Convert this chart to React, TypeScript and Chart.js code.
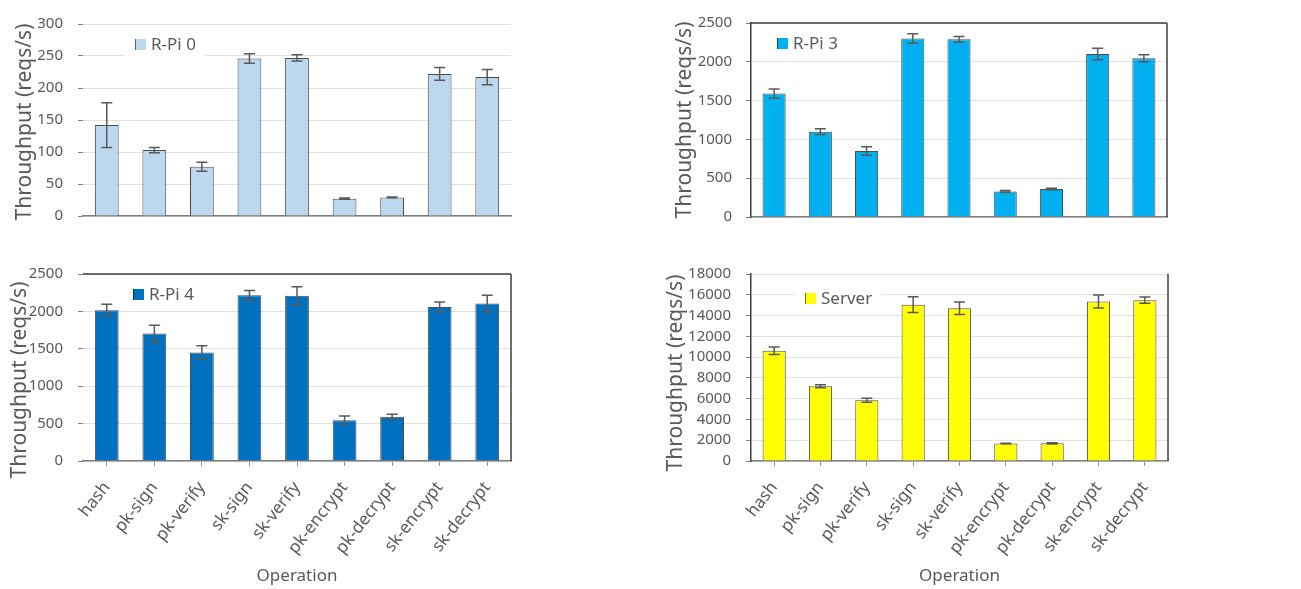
import React, { useEffect, useRef } from 'react';
import { Chart, registerables } from 'chart.js';

Chart.register(...registerables);

// ---------- data ----------
const operations = ['hash', 'pk-sign', 'pk-verify', 'sk-sign', 'sk-verify', 'pk-encrypt', 'pk-decrypt', 'sk-encrypt', 'sk-decrypt'];

const rpi0Values = [142, 103, 77, 246, 247, 27, 29, 222, 217];
const rpi0Errors = [35, 4, 7, 7.5, 5, 1, 0.5, 10, 12];

const rpi3Values = [1590, 1100, 850, 2300, 2290, 330, 362, 2100, 2045];
const rpi3Errors = [60, 37, 55, 60, 35, 10, 10, 75, 45];

const rpi4Values = [2015, 1705, 1450, 2215, 2210, 545, 590, 2060, 2105];
const rpi4Errors = [80, 110, 90, 65, 120, 55, 35, 65, 110];

const serverValues = [10620, 7200, 5850, 15050, 14700, 1680, 1700, 15350, 15480];
const serverErrors = [360, 150, 200, 750, 600, 30, 60, 620, 300];

const yMaxes = [300, 2500, 2500, 18000];
const ySteps = [50, 500, 500, 2000];
const seriesLabels = ['R-Pi 0', 'R-Pi 3', 'R-Pi 4', 'Server'];
const yTitle = 'Throughput (reqs/s)';
const xTitle = 'Operation';

// ---------- styling ----------
const FONT = "'Noto Sans', sans-serif";
const TEXT = '#595959';

const errorBarPlugin = {
  id: 'errorBars',
  afterDatasetsDraw(chart: any) {
    const { ctx } = chart;
    const yScale = chart.scales.y;
    chart.data.datasets.forEach((ds: any, i: number) => {
      const errs = ds.errors;
      if (!errs) return;
      const meta = chart.getDatasetMeta(i);
      meta.data.forEach((bar: any, j: number) => {
        const v = ds.data[j];
        const e = errs[j];
        const yTop = yScale.getPixelForValue(v + e);
        const yBot = yScale.getPixelForValue(v - e);
        const x = bar.x;
        const cap = 5.5;
        ctx.save();
        ctx.strokeStyle = '#595959';
        ctx.lineWidth = 1.5;
        ctx.beginPath();
        ctx.moveTo(x, yTop);
        ctx.lineTo(x, yBot);
        ctx.moveTo(x - cap, yTop);
        ctx.lineTo(x + cap, yTop);
        ctx.moveTo(x - cap, yBot);
        ctx.lineTo(x + cap, yBot);
        ctx.stroke();
        ctx.restore();
      });
    });
  },
};

const framePlugin = {
  id: 'frame',
  afterDraw(chart: any, _a: any, opts: any) {
    const { ctx, chartArea } = chart;
    ctx.save();
    ctx.strokeStyle = '#404040';
    ctx.lineWidth = 1.5;
    ctx.beginPath();
    if (opts.top) {
      ctx.moveTo(chartArea.left, chartArea.top);
      ctx.lineTo(chartArea.right, chartArea.top);
    }
    if (opts.right) {
      ctx.moveTo(chartArea.right, chartArea.top);
      ctx.lineTo(chartArea.right, chartArea.bottom);
    }
    ctx.stroke();
    ctx.restore();
  },
};

const yTitlePlugin = {
  id: 'yTitleText',
  afterDraw(chart: any, _a: any, opts: any) {
    const { ctx } = chart;
    ctx.save();
    ctx.translate(opts.x, opts.y);
    ctx.rotate(-Math.PI / 2);
    ctx.font = `21px ${FONT}`;
    ctx.fillStyle = TEXT;
    ctx.textAlign = 'center';
    ctx.textBaseline = 'middle';
    ctx.fillText(opts.text, 0, 0);
    ctx.restore();
  },
};

const innerLegendPlugin = {
  id: 'innerLegend',
  afterDraw(chart: any, _a: any, opts: any) {
    const { ctx, chartArea } = chart;
    const ds = chart.data.datasets[0];
    const x = chartArea.left + opts.dx;
    const y = chartArea.top + opts.dy;
    const box = 11;
    ctx.save();
    ctx.font = `17px ${FONT}`;
    const tw = ctx.measureText(ds.label).width;
    ctx.fillStyle = '#ffffff';
    ctx.fillRect(x - 10, y - 6, box + 6 + tw + 18, box + 12);
    ctx.fillStyle = ds.backgroundColor;
    ctx.fillRect(x, y, box, box);
    ctx.strokeStyle = 'rgba(0,0,0,0.55)';
    ctx.lineWidth = 1;
    ctx.beginPath();
    ctx.moveTo(x + 0.5, y);
    ctx.lineTo(x + 0.5, y + box);
    ctx.stroke();
    ctx.fillStyle = TEXT;
    ctx.textBaseline = 'middle';
    ctx.textAlign = 'left';
    ctx.fillText(ds.label, x + box + 5, y + box / 2 + 0.5);
    ctx.restore();
  },
};

type PanelProps = {
  values: number[];
  errors: number[];
  label: string;
  color: string;
  yMax: number;
  yStep: number;
  width: number;
  height: number;
  area: { left: number; top: number; right: number; bottom: number };
  showX: boolean;
  yLine: boolean;
  frame: { top: boolean; right: boolean };
  legend: { dx: number; dy: number };
  tickPad: number;
  titlePos: { x: number; y: number };
};

function Panel(p: PanelProps) {
  const ref = useRef<HTMLCanvasElement | null>(null);
  useEffect(() => {
    if (!ref.current) return;
    const chart = new Chart(ref.current, {
      type: 'bar',
      data: {
        labels: operations,
        datasets: [
          {
            label: p.label,
            data: p.values,
            errors: p.errors,
            backgroundColor: p.color,
            borderColor: 'rgba(0,0,0,0.7)',
            borderWidth: { top: 1, left: 1, right: 1, bottom: 0 },
            borderSkipped: 'start',
            categoryPercentage: 1,
            barPercentage: 0.5,
          } as any,
        ],
      },
      options: {
        responsive: false,
        animation: false,
        events: [],
        layout: {
          padding: {
            left: 0,
            top: p.area.top,
            right: p.width - p.area.right,
            bottom: 0,
          },
        },
        plugins: {
          legend: { display: false },
          tooltip: { enabled: false },
          frame: p.frame,
          innerLegend: p.legend,
          yTitleText: { x: p.titlePos.x, y: p.titlePos.y, text: yTitle },
        } as any,
        scales: {
          x: {
            afterFit: (s: any) => {
              s.height = p.height - p.area.bottom;
            },
            grid: {
              display: p.showX,
              drawOnChartArea: false,
              drawTicks: true,
              tickLength: 5,
              offset: false,
              tickColor: '#8c8c8c',
            },
            border: { display: true, color: '#7f7f7f', width: 1.5 },
            ticks: {
              display: p.showX,
              autoSkip: false,
              maxRotation: 52,
              minRotation: 52,
              padding: 12,
              color: TEXT,
              font: { family: FONT, size: 17 },
            },
            title: {
              display: p.showX,
              text: xTitle,
              color: TEXT,
              font: { family: FONT, size: 17 },
              padding: { top: 0, bottom: 3 },
            },
          },
          y: {
            min: 0,
            max: p.yMax,
            afterFit: (s: any) => {
              s.width = p.area.left;
            },
            ticks: {
              stepSize: p.yStep,
              autoSkip: false,
              color: TEXT,
              padding: p.tickPad,
              font: { family: FONT, size: 15 },
              callback: (v: any) => String(v),
            },
            grid: {
              color: '#e2e2e2',
              lineWidth: 1,
              tickLength: 5,
              tickColor: '#7f7f7f',
            },
            border: { display: p.yLine, color: '#404040', width: 1.5 },
            title: { display: false },
          },
        },
      },
      plugins: [errorBarPlugin, framePlugin, innerLegendPlugin, yTitlePlugin],
    });
    return () => chart.destroy();
  }, []);
  return <canvas ref={ref} width={p.width} height={p.height} style={{ display: 'block' }} />;
}

export default function App() {
  const panels = [
    {
      pos: { left: 0, top: 0 },
      props: {
        values: rpi0Values, errors: rpi0Errors, label: seriesLabels[0], color: '#BDD7EE',
        yMax: yMaxes[0], yStep: ySteps[0], width: 520, height: 240,
        area: { left: 83, top: 14, right: 511, bottom: 229 },
        showX: false, yLine: false, frame: { top: false, right: false },
        legend: { dx: 52, dy: 15 }, tickPad: 15, titlePos: { x: 25, y: 122 },
      },
    },
    {
      pos: { left: 650, top: 0 },
      props: {
        values: rpi3Values, errors: rpi3Errors, label: seriesLabels[1], color: '#00B0F0',
        yMax: yMaxes[1], yStep: ySteps[1], width: 651, height: 240,
        area: { left: 101, top: 13, right: 517, bottom: 227 },
        showX: false, yLine: true, frame: { top: true, right: true },
        legend: { dx: 26, dy: 15 }, tickPad: 14, titlePos: { x: 35, y: 120 },
      },
    },
    {
      pos: { left: 0, top: 250 },
      props: {
        values: rpi4Values, errors: rpi4Errors, label: seriesLabels[2], color: '#0070C0',
        yMax: yMaxes[2], yStep: ySteps[2], width: 520, height: 339,
        area: { left: 83, top: 19, right: 511, bottom: 211 },
        showX: true, yLine: false, frame: { top: true, right: true },
        legend: { dx: 50, dy: 15 }, tickPad: 15, titlePos: { x: 20, y: 130 },
      },
    },
    {
      pos: { left: 650, top: 250 },
      props: {
        values: serverValues, errors: serverErrors, label: seriesLabels[3], color: '#FFFF00',
        yMax: yMaxes[3], yStep: ySteps[3], width: 651, height: 339,
        area: { left: 101, top: 18, right: 518, bottom: 211 },
        showX: true, yLine: true, frame: { top: false, right: true },
        legend: { dx: 54, dy: 19 }, tickPad: 15, titlePos: { x: 26, y: 123 },
      },
    },
  ];
  return (
    <div style={{ position: 'fixed', left: 0, top: 0, width: 1301, height: 589, background: '#ffffff', overflow: 'hidden' }}>
      {panels.map((pn, i) => (
        <div key={i} style={{ position: 'absolute', left: pn.pos.left, top: pn.pos.top }}>
          <Panel {...(pn.props as PanelProps)} />
        </div>
      ))}
    </div>
  );
}
